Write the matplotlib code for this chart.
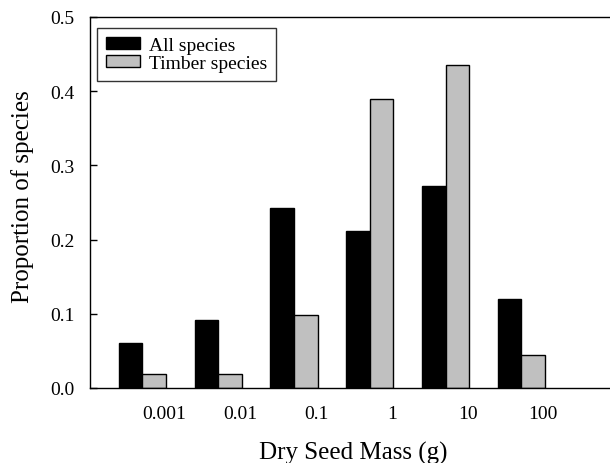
import matplotlib
matplotlib.use("Agg")
import matplotlib.pyplot as plt
import numpy as np

categories = ["0.001", "0.01", "0.1", "1", "10", "100"]
all_species = [0.061, 0.091, 0.242, 0.212, 0.272, 0.120]
timber_species = [0.019, 0.019, 0.099, 0.390, 0.435, 0.044]

plt.rcParams['font.family'] = ['Liberation Serif', 'DejaVu Serif']

W, H = 610, 464
fig = plt.figure(figsize=(W / 100, H / 100), dpi=100)
ax = fig.add_axes([90 / W, (H - 389) / H, (W - 90) / W, (389 - 18) / H])

x = np.arange(len(categories))
bw = 0.311
ax.bar(x - bw / 2, all_species, width=bw, color="black", edgecolor="black",
       linewidth=1, label="All species")
ax.bar(x + bw / 2, timber_species, width=bw, color="#c0c0c0", edgecolor="black",
       linewidth=1, label="Timber species")

ax.set_xlim(-0.692, 6.17)
ax.set_ylim(0, 0.5)
ax.set_yticks([0, 0.1, 0.2, 0.3, 0.4, 0.5])
ax.set_yticklabels(["0.0", "0.1", "0.2", "0.3", "0.4", "0.5"])
ax.set_xticks(x + 0.29)
ax.set_xticklabels(categories)

ax.tick_params(axis="y", direction="in", length=5, width=1, pad=11, labelsize=14)
ax.tick_params(axis="x", length=0, pad=12, labelsize=14)

ax.spines["right"].set_visible(False)
for s in ["left", "top", "bottom"]:
    ax.spines[s].set_linewidth(1)

ax.set_xlabel("Dry Seed Mass (g)", fontsize=18)
ax.set_ylabel("Proportion of species", fontsize=18)
ax.xaxis.set_label_coords((353 - 90) / 520, (389 - 442) / 371)
ax.yaxis.set_label_coords((34.5 - 90) / 520, (389 - 197) / 371)

leg = ax.legend(loc="upper left", bbox_to_anchor=(0.0135, 0.97), frameon=True,
                fancybox=False, edgecolor="black", fontsize=14,
                handlelength=1.75, handleheight=0.57, handletextpad=0.46,
                borderpad=0.45, labelspacing=0.05, borderaxespad=0)
leg.get_frame().set_linewidth(1)

fig.savefig("out.png", dpi=100)
